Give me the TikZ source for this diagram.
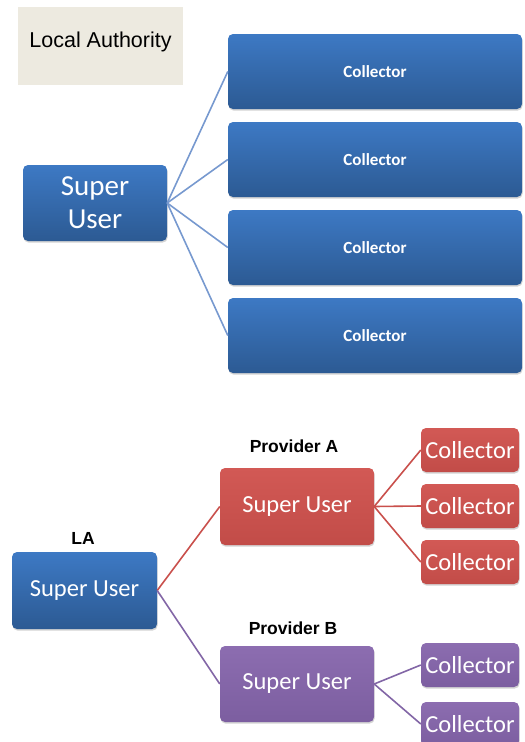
\documentclass[tikz,border=0pt]{standalone}
\usepackage{fontspec}
\setmainfont{Carlito}
\newfontfamily\arialf{Liberation Sans}
\usetikzlibrary{shadows}
\definecolor{bluetop}{HTML}{3D79C4}
\definecolor{bluebot}{HTML}{2C5A93}
\definecolor{redtop}{HTML}{D25955}
\definecolor{redbot}{HTML}{C24C48}
\definecolor{purtop}{HTML}{8C6DB0}
\definecolor{purbot}{HTML}{7C5EA0}
\definecolor{blueline}{HTML}{7799CF}
\definecolor{redline}{HTML}{C9504C}
\definecolor{purline}{HTML}{8266A6}
\definecolor{labox}{HTML}{EDEAE0}
\tikzset{
  boxbase/.style={rounded corners=5pt, text=white, align=center, inner sep=0pt,
    drop shadow={shadow xshift=0.6pt, shadow yshift=-1.6pt, opacity=0.35}},
  bluebox/.style={boxbase, top color=bluetop, bottom color=bluebot},
  redbox/.style={boxbase, top color=redtop, bottom color=redbot},
  purbox/.style={boxbase, top color=purtop, bottom color=purbot},
  bigtxt/.style={font=\fontsize{29}{33}\selectfont},
  midtxt/.style={font=\fontsize{24.5}{28}\selectfont},
  coltxt/.style={font=\fontsize{17}{20}\selectfont\bfseries},
  lbl/.style={font=\arialf\fontsize{17.5}{20}\selectfont\bfseries},
  bl/.style={draw=blueline, line width=1.6pt},
  rl/.style={draw=redline, line width=1.6pt},
  pl/.style={draw=purline, line width=1.6pt},
}
\begin{document}
\begin{tikzpicture}[x=1pt,y=-1pt]
\useasboundingbox (0,0) rectangle (525,742);
\clip (0,0) rectangle (525,742);
% top part
\node[fill=labox, minimum width=165pt, inner sep=0pt, text height=40pt, text depth=38pt,
  font=\arialf\fontsize{21.5}{24}\selectfont] (la) at (100.5,46) {Local Authority};
\node[bluebox, bigtxt, minimum width=144pt, minimum height=76pt] (su) at (95,203) {Super\\User};
\foreach \i/\y in {1/71.5,2/159.5,3/247.5,4/335.5}{
  \node[bluebox, coltxt, minimum width=294pt, minimum height=75pt] (c\i) at (375,\y) {Collector};
}
\foreach \i in {1,2,3,4}{\draw[bl] (su.east) -- (c\i.west);}
% bottom part
\node[bluebox, midtxt, minimum width=145pt, minimum height=77pt] (lasu) at (84.5,590.5) {Super User};
\node[lbl] (lalbl) at (83,538) {LA};
\node[redbox, midtxt, minimum width=154pt, minimum height=77pt] (asu) at (297,506.5) {Super User};
\node[lbl] (albl) at (294,446) {Provider A};
\node[purbox, midtxt, minimum width=154pt, minimum height=76pt] (bsu) at (297,684) {Super User};
\node[lbl] (blbl) at (293,628) {Provider B};
\foreach \i/\y in {1/450,2/506,3/562}{
  \node[redbox, midtxt, minimum width=98pt, minimum height=44pt] (ac\i) at (470,\y) {Collector};
}
\foreach \i/\y in {1/665,2/724}{
  \node[purbox, midtxt, minimum width=98pt, minimum height=44pt] (bc\i) at (470,\y) {Collector};
}
\draw[rl] (lasu.east) -- (asu.west);
\draw[pl] (lasu.east) -- (bsu.west);
\foreach \i in {1,2,3}{\draw[rl] (asu.east) -- (ac\i.west);}
\foreach \i in {1,2}{\draw[pl] (bsu.east) -- (bc\i.west);}
\end{tikzpicture}
\end{document}
